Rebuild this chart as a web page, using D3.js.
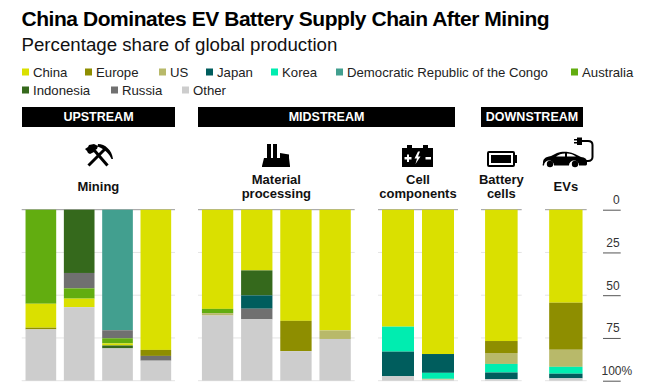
<!DOCTYPE html>
<html>
<head>
<meta charset="utf-8">
<script src="https://cdn.jsdelivr.net/npm/d3@7"></script>
<style>
  html, body { margin: 0; padding: 0; background: #fff; }
  svg { display: block; font-family: "Liberation Sans", Arial, sans-serif; }
</style>
</head>
<body>
<svg id="chart"></svg>
<script>
// legend order
const countries = ["China", "Europe", "US", "Japan", "Korea", "Democratic Republic of the Congo", "Australia", "Indonesia", "Russia", "Other"];
const countryColors = ["#dae000", "#8e8e00", "#b8b96a", "#005d5d", "#00edb0", "#429f8f", "#62ad10", "#35691c", "#707070", "#cdcdcd"];
const DRC = "Democratic Republic of the Congo";

// each bar is stacked top to bottom in its own order
const miningStacks = [
  ["Australia", "China", "Europe", "Other"],
  ["Indonesia", "Russia", "Australia", "China", "Other"],
  [DRC, "Russia", "Australia", "China", "Indonesia", "Other"],
  ["China", "Europe", "Russia", "Other"]
];
const miningShares = [
  [55, 14, 1, 30],
  [37, 9, 6, 5, 43],
  [70.5, 4.7, 3, 1.2, 1.7, 18.9],
  [82, 3.5, 2.8, 11.7]
];
const materialStacks = [
  ["China", "Australia", "US", "Other"],
  ["China", "Indonesia", "Japan", "Russia", "Other"],
  ["China", "Europe", "Other"],
  ["China", "US", "Other"]
];
const materialShares = [
  [58, 2.5, 1.4, 38.1],
  [35.5, 14.6, 7.8, 6.2, 35.9],
  [65, 17.7, 17.3],
  [70.6, 5, 24.4]
];
const componentStacks = [
  ["China", "Korea", "Japan", "Other"],
  ["China", "Japan", "Korea", "US", "Other"]
];
const componentShares = [
  [68.4, 14.6, 14.4, 2.6],
  [84.4, 11, 3.5, 0.5, 0.6]
];
const batteryStacks = [["China", "Europe", "US", "Korea", "Japan", "Other"]];
const batteryShares = [[76.8, 7, 6.4, 5, 3.9, 0.9]];
const evStacks = [["China", "Europe", "US", "Korea", "Japan", "Other"]];
const evShares = [[54.4, 27.5, 10, 4, 2.7, 1.4]];

const yTicks = [0, 25, 50, 75, 100];

const width = 650, height = 385;
const svg = d3.select("#chart").attr("width", width).attr("height", height);

const color = d3.scaleOrdinal().domain(countries).range(countryColors);
const y = d3.scaleLinear().domain([0, 100]).range([209.7, 380.7]);

// title
svg.append("text").attr("x", 21.5).attr("y", 26).attr("font-size", 21).attr("font-weight", 700)
  .attr("letter-spacing", -0.45).attr("fill", "#000").text("China Dominates EV Battery Supply Chain After Mining");
svg.append("text").attr("x", 21.5).attr("y", 51).attr("font-size", 18.7).attr("fill", "#111")
  .text("Percentage share of global production");

// legend
const legendX = [22, 85, 159, 206, 271, 336, 571, 22, 111, 182];
const legendY = [72, 72, 72, 72, 72, 72, 72, 90, 90, 90];
const legend = svg.append("g").selectAll("g").data(countries).join("g")
  .attr("transform", (d, i) => `translate(${legendX[i]},${legendY[i]})`);
legend.append("rect").attr("x", 0).attr("y", -3.5).attr("width", 7).attr("height", 7).attr("fill", d => color(d));
legend.append("text").attr("x", 11).attr("y", 4.5).attr("font-size", 13.2).attr("fill", "#222").text(d => d);

// section headers
const sections = [
  { name: "UPSTREAM", x0: 22, x1: 175 },
  { name: "MIDSTREAM", x0: 198, x1: 455 },
  { name: "DOWNSTREAM", x0: 481, x1: 583 }
];
const head = svg.append("g").selectAll("g").data(sections).join("g");
head.append("rect").attr("x", d => d.x0).attr("y", 107).attr("width", d => d.x1 - d.x0).attr("height", 20).attr("fill", "#000");
head.append("text").attr("x", d => (d.x0 + d.x1) / 2).attr("y", 121).attr("text-anchor", "middle")
  .attr("font-size", 12.5).attr("font-weight", 700).attr("fill", "#fff").text(d => d.name);

// bar groups
const groups = [
  { label: ["Mining"], labelY: 191, range: [21.7, 175], stacks: miningStacks, shares: miningShares },
  { label: ["Material", "processing"], labelY: 184, range: [198, 354.7], stacks: materialStacks, shares: materialShares },
  { label: ["Cell", "components"], labelY: 184, range: [378, 458], stacks: componentStacks, shares: componentShares },
  { label: ["Battery", "cells"], labelY: 184, range: [481, 521.7], stacks: batteryStacks, shares: batteryShares },
  { label: ["EVs"], labelY: 191, range: [545, 586.7], stacks: evStacks, shares: evShares }
];

groups.forEach(g => {
  const x = d3.scaleBand().domain(d3.range(g.stacks.length)).range(g.range).paddingInner(0.2).paddingOuter(0.1);
  const layer = svg.append("g");

  layer.selectAll("line.grid").data(yTicks).join("line")
    .attr("class", "grid")
    .attr("x1", g.range[0]).attr("x2", g.range[1])
    .attr("y1", d => y(d)).attr("y2", d => y(d))
    .attr("stroke", d => d === 0 ? "#999" : "#e4e4e4")
    .attr("stroke-width", 1);

  g.stacks.forEach((stack, i) => {
    let sum = 0;
    const segs = stack.map((c, j) => {
      const s = { country: c, y0: sum, y1: sum + g.shares[i][j] };
      sum = s.y1;
      return s;
    });
    layer.selectAll(null).data(segs).join("rect")
      .attr("x", x(i)).attr("width", x.bandwidth())
      .attr("y", d => y(d.y0)).attr("height", d => y(d.y1) - y(d.y0))
      .attr("fill", d => color(d.country));
  });

  const cx = (g.range[0] + g.range[1]) / 2;
  svg.append("g").selectAll("text").data(g.label).join("text")
    .attr("x", cx).attr("y", (d, i) => g.labelY + i * 14)
    .attr("text-anchor", "middle").attr("font-size", 13).attr("font-weight", 700).attr("fill", "#111")
    .text(d => d);
});

// y axis, labels sit on top of the tick lines
const axis = svg.append("g").attr("transform", "translate(620.7,0)")
  .call(d3.axisLeft(y).tickValues(yTicks).tickSize(17.7).tickSizeOuter(0).tickFormat(d => d === 100 ? "100%" : d));
axis.select(".domain").remove();
axis.selectAll("line").attr("stroke", "#555");
axis.selectAll("text")
  .attr("font-family", "Liberation Sans, Arial, sans-serif")
  .attr("font-size", 12).attr("fill", "#333")
  .attr("x", d => d === 100 ? 11.5 : -1)
  .attr("dy", null).attr("y", -6);

// icons
const icons = svg.append("g").attr("fill", "#000");

// hammer and pick
icons.append("path").attr("d", "M85 149l3-2 1-2 5-1 4 2-1 3-2 1-1 2-2 1-2 1-2-1-1-2z");
icons.append("line").attr("x1", 94).attr("y1", 150).attr("x2", 107.5).attr("y2", 165.5)
  .attr("stroke", "#000").attr("stroke-width", 3);
icons.append("line").attr("x1", 105).attr("y1", 149).attr("x2", 88.5).attr("y2", 165.5)
  .attr("stroke", "#000").attr("stroke-width", 3);
icons.append("path").attr("d", "M98 144c7 0 14 6 15 15l-1.500 0c-2-5-7-10-14-12.500z");

// factory
icons.append("path").attr("d", "M267 144h4v14h-4zM273 144h4v14h-4zM264 158h16v-5l9 1.500v3.500l1 8v1h-28v-1z");

// cell component battery with bolt
icons.append("path").attr("fill-rule", "evenodd").attr("d",
  "M402 148h5v-3h5v3h11v-3h5v3h5v19h-31zM404.500 157v2.500h2.500v2.500h2v-2.500h2.500v-2.500h-2.500v-2.500h-2v2.500zM418 151.500l-3.500 7h2.500l-1.500 5.500 5-7.500h-2.500l2-5zM425.500 157v2.500h5.500v-2.500z");

// battery cell
icons.append("path").attr("fill-rule", "evenodd").attr("d",
  "M489 151h24a2 2 0 0 1 2 2v2h2v8h-2v2a2 2 0 0 1-2 2h-24a2 2 0 0 1-2-2v-12a2 2 0 0 1 2-2zM489 153v12h24v-12z");
icons.append("rect").attr("x", 491).attr("y", 155).attr("width", 20).attr("height", 8);

// car with charging cable
icons.append("path").attr("fill-rule", "evenodd").attr("d",
  "M543 163c0-4 2-6 8-7l6-3c3-1 7-1.500 11-1 5 .5 9 3 13 5 4 .5 6 2 6 5v2c0 1-1 1.500-2 1.500h-6a5 5 0 0 0-10 0h-15a5 5 0 0 0-10 0h-1c-1 0-0-1.500-0-2.500zM556 156.500h9v-3c-4 0-6 1-9 3zM567 153.500v3h9c-3-2-5-3-9-3z");
icons.append("circle").attr("cx", 550).attr("cy", 164).attr("r", 3.2);
icons.append("circle").attr("cx", 575).attr("cy", 164).attr("r", 3.2);
icons.append("path").attr("fill", "none").attr("stroke", "#000").attr("stroke-width", 2)
  .attr("d", "M586 161h2c3 0 4.500-2 4.500-4v-12c0-3-1.500-4-4.500-4h-6");
icons.append("path").attr("d", "M577 137.500h5v7.500h-5v-1.500h-3v-1.500h3v-1.500h-3v-1.500h3z");
</script>
</body>
</html>
